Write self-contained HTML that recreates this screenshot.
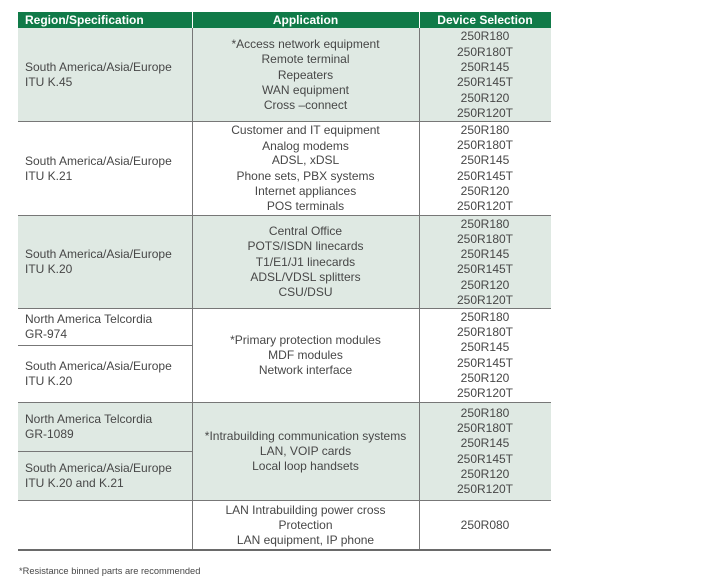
<!DOCTYPE html>
<html>
<head>
<meta charset="utf-8">
<style>
  html,body{margin:0;padding:0;background:#fff;}
  body{width:706px;height:579px;position:relative;overflow:hidden;font-family:"Liberation Sans",Arial,sans-serif;}
  .bg{position:absolute;}
  .g{background:#dfe9e3;}
  .hl{position:absolute;height:1px;background:#777;}
  .vl{position:absolute;width:1px;background:#777;}
  .t{position:absolute;font-size:12px;line-height:15px;height:15px;color:#474747;white-space:nowrap;}
  .c1{left:25px;}
  .c2{left:192px;width:227px;text-align:center;}
  .c3{left:419px;width:132px;text-align:center;}
  .h{position:absolute;font-size:12px;line-height:16px;font-weight:bold;color:#fff;white-space:nowrap;top:12px;}
</style>
</head>
<body>
<!-- header -->
<div class="bg" style="left:18px;top:12px;width:533px;height:16px;background:#107a48;"></div>
<div class="bg" style="left:192px;top:12px;width:1px;height:16px;background:#fff;"></div>
<div class="bg" style="left:419px;top:12px;width:1px;height:16px;background:#fff;"></div>
<div class="h" style="left:25px;">Region/Specification</div>
<div class="h" style="left:192px;width:227px;text-align:center;">Application</div>
<div class="h" style="left:419px;width:132px;text-align:center;">Device Selection</div>

<!-- row backgrounds -->
<div class="bg g" style="left:18px;top:28px;width:533px;height:93px;"></div>
<div class="bg g" style="left:18px;top:215px;width:533px;height:94px;"></div>
<div class="bg g" style="left:18px;top:402px;width:533px;height:98px;"></div>

<!-- horizontal lines -->
<div class="hl" style="left:18px;top:121px;width:533px;"></div>
<div class="hl" style="left:18px;top:215px;width:533px;"></div>
<div class="hl" style="left:18px;top:308px;width:533px;"></div>
<div class="hl" style="left:18px;top:345px;width:174px;"></div>
<div class="hl" style="left:18px;top:402px;width:533px;"></div>
<div class="hl" style="left:18px;top:451px;width:174px;"></div>
<div class="hl" style="left:18px;top:500px;width:533px;"></div>
<div class="bg" style="left:18px;top:549px;width:533px;height:2px;background:#6a6a6a;"></div>

<!-- vertical lines -->
<div class="vl" style="left:192px;top:28px;height:521px;"></div>
<div class="vl" style="left:419px;top:28px;height:521px;"></div>

<!-- Row 1 -->
<div class="t c1" style="top:59.5px;">South America/Asia/Europe</div>
<div class="t c1" style="top:74.5px;">ITU K.45</div>
<div class="t c2" style="top:36.5px;">*Access network equipment</div>
<div class="t c2" style="top:52px;">Remote terminal</div>
<div class="t c2" style="top:67.5px;">Repeaters</div>
<div class="t c2" style="top:82.5px;">WAN equipment</div>
<div class="t c2" style="top:98px;">Cross –connect</div>
<div class="t c3" style="top:29px;">250R180</div>
<div class="t c3" style="top:44.5px;">250R180T</div>
<div class="t c3" style="top:60px;">250R145</div>
<div class="t c3" style="top:75px;">250R145T</div>
<div class="t c3" style="top:90.5px;">250R120</div>
<div class="t c3" style="top:105.5px;">250R120T</div>

<!-- Row 2 -->
<div class="t c1" style="top:153.5px;">South America/Asia/Europe</div>
<div class="t c1" style="top:169px;">ITU K.21</div>
<div class="t c2" style="top:123px;">Customer and IT equipment</div>
<div class="t c2" style="top:138.5px;">Analog modems</div>
<div class="t c2" style="top:153px;">ADSL, xDSL</div>
<div class="t c2" style="top:169px;">Phone sets, PBX systems</div>
<div class="t c2" style="top:184px;">Internet appliances</div>
<div class="t c2" style="top:199px;">POS terminals</div>
<div class="t c3" style="top:123px;">250R180</div>
<div class="t c3" style="top:138px;">250R180T</div>
<div class="t c3" style="top:153px;">250R145</div>
<div class="t c3" style="top:168.5px;">250R145T</div>
<div class="t c3" style="top:184px;">250R120</div>
<div class="t c3" style="top:199px;">250R120T</div>

<!-- Row 3 -->
<div class="t c1" style="top:247px;">South America/Asia/Europe</div>
<div class="t c1" style="top:262px;">ITU K.20</div>
<div class="t c2" style="top:224px;">Central Office</div>
<div class="t c2" style="top:239px;">POTS/ISDN linecards</div>
<div class="t c2" style="top:254.5px;">T1/E1/J1 linecards</div>
<div class="t c2" style="top:269.5px;">ADSL/VDSL splitters</div>
<div class="t c2" style="top:284.5px;">CSU/DSU</div>
<div class="t c3" style="top:216.5px;">250R180</div>
<div class="t c3" style="top:231.5px;">250R180T</div>
<div class="t c3" style="top:247px;">250R145</div>
<div class="t c3" style="top:262px;">250R145T</div>
<div class="t c3" style="top:277.5px;">250R120</div>
<div class="t c3" style="top:292.5px;">250R120T</div>

<!-- Row 4 -->
<div class="t c1" style="top:312px;">North America Telcordia</div>
<div class="t c1" style="top:327px;">GR-974</div>
<div class="t c1" style="top:359px;">South America/Asia/Europe</div>
<div class="t c1" style="top:374px;">ITU K.20</div>
<div class="t c2" style="top:333px;">*Primary protection modules</div>
<div class="t c2" style="top:348px;">MDF modules</div>
<div class="t c2" style="top:363px;">Network interface</div>
<div class="t c3" style="top:310px;">250R180</div>
<div class="t c3" style="top:325px;">250R180T</div>
<div class="t c3" style="top:340px;">250R145</div>
<div class="t c3" style="top:355.5px;">250R145T</div>
<div class="t c3" style="top:371px;">250R120</div>
<div class="t c3" style="top:385.5px;">250R120T</div>

<!-- Row 5 -->
<div class="t c1" style="top:412px;">North America Telcordia</div>
<div class="t c1" style="top:427px;">GR-1089</div>
<div class="t c1" style="top:460.5px;">South America/Asia/Europe</div>
<div class="t c1" style="top:476px;">ITU K.20 and K.21</div>
<div class="t c2" style="top:429px;">*Intrabuilding communication systems</div>
<div class="t c2" style="top:444px;">LAN, VOIP cards</div>
<div class="t c2" style="top:459px;">Local loop handsets</div>
<div class="t c3" style="top:406px;">250R180</div>
<div class="t c3" style="top:421px;">250R180T</div>
<div class="t c3" style="top:436px;">250R145</div>
<div class="t c3" style="top:452px;">250R145T</div>
<div class="t c3" style="top:467px;">250R120</div>
<div class="t c3" style="top:482px;">250R120T</div>

<!-- Row 6 -->
<div class="t c2" style="top:502.5px;">LAN Intrabuilding power cross</div>
<div class="t c2" style="top:517.5px;">Protection</div>
<div class="t c2" style="top:533px;">LAN equipment, IP phone</div>
<div class="t c3" style="top:517.5px;">250R080</div>

<!-- footnote -->
<div style="position:absolute;left:19px;top:565px;font-size:9.3px;line-height:12px;color:#474747;white-space:nowrap;">*Resistance binned parts are recommended</div>
</body>
</html>
